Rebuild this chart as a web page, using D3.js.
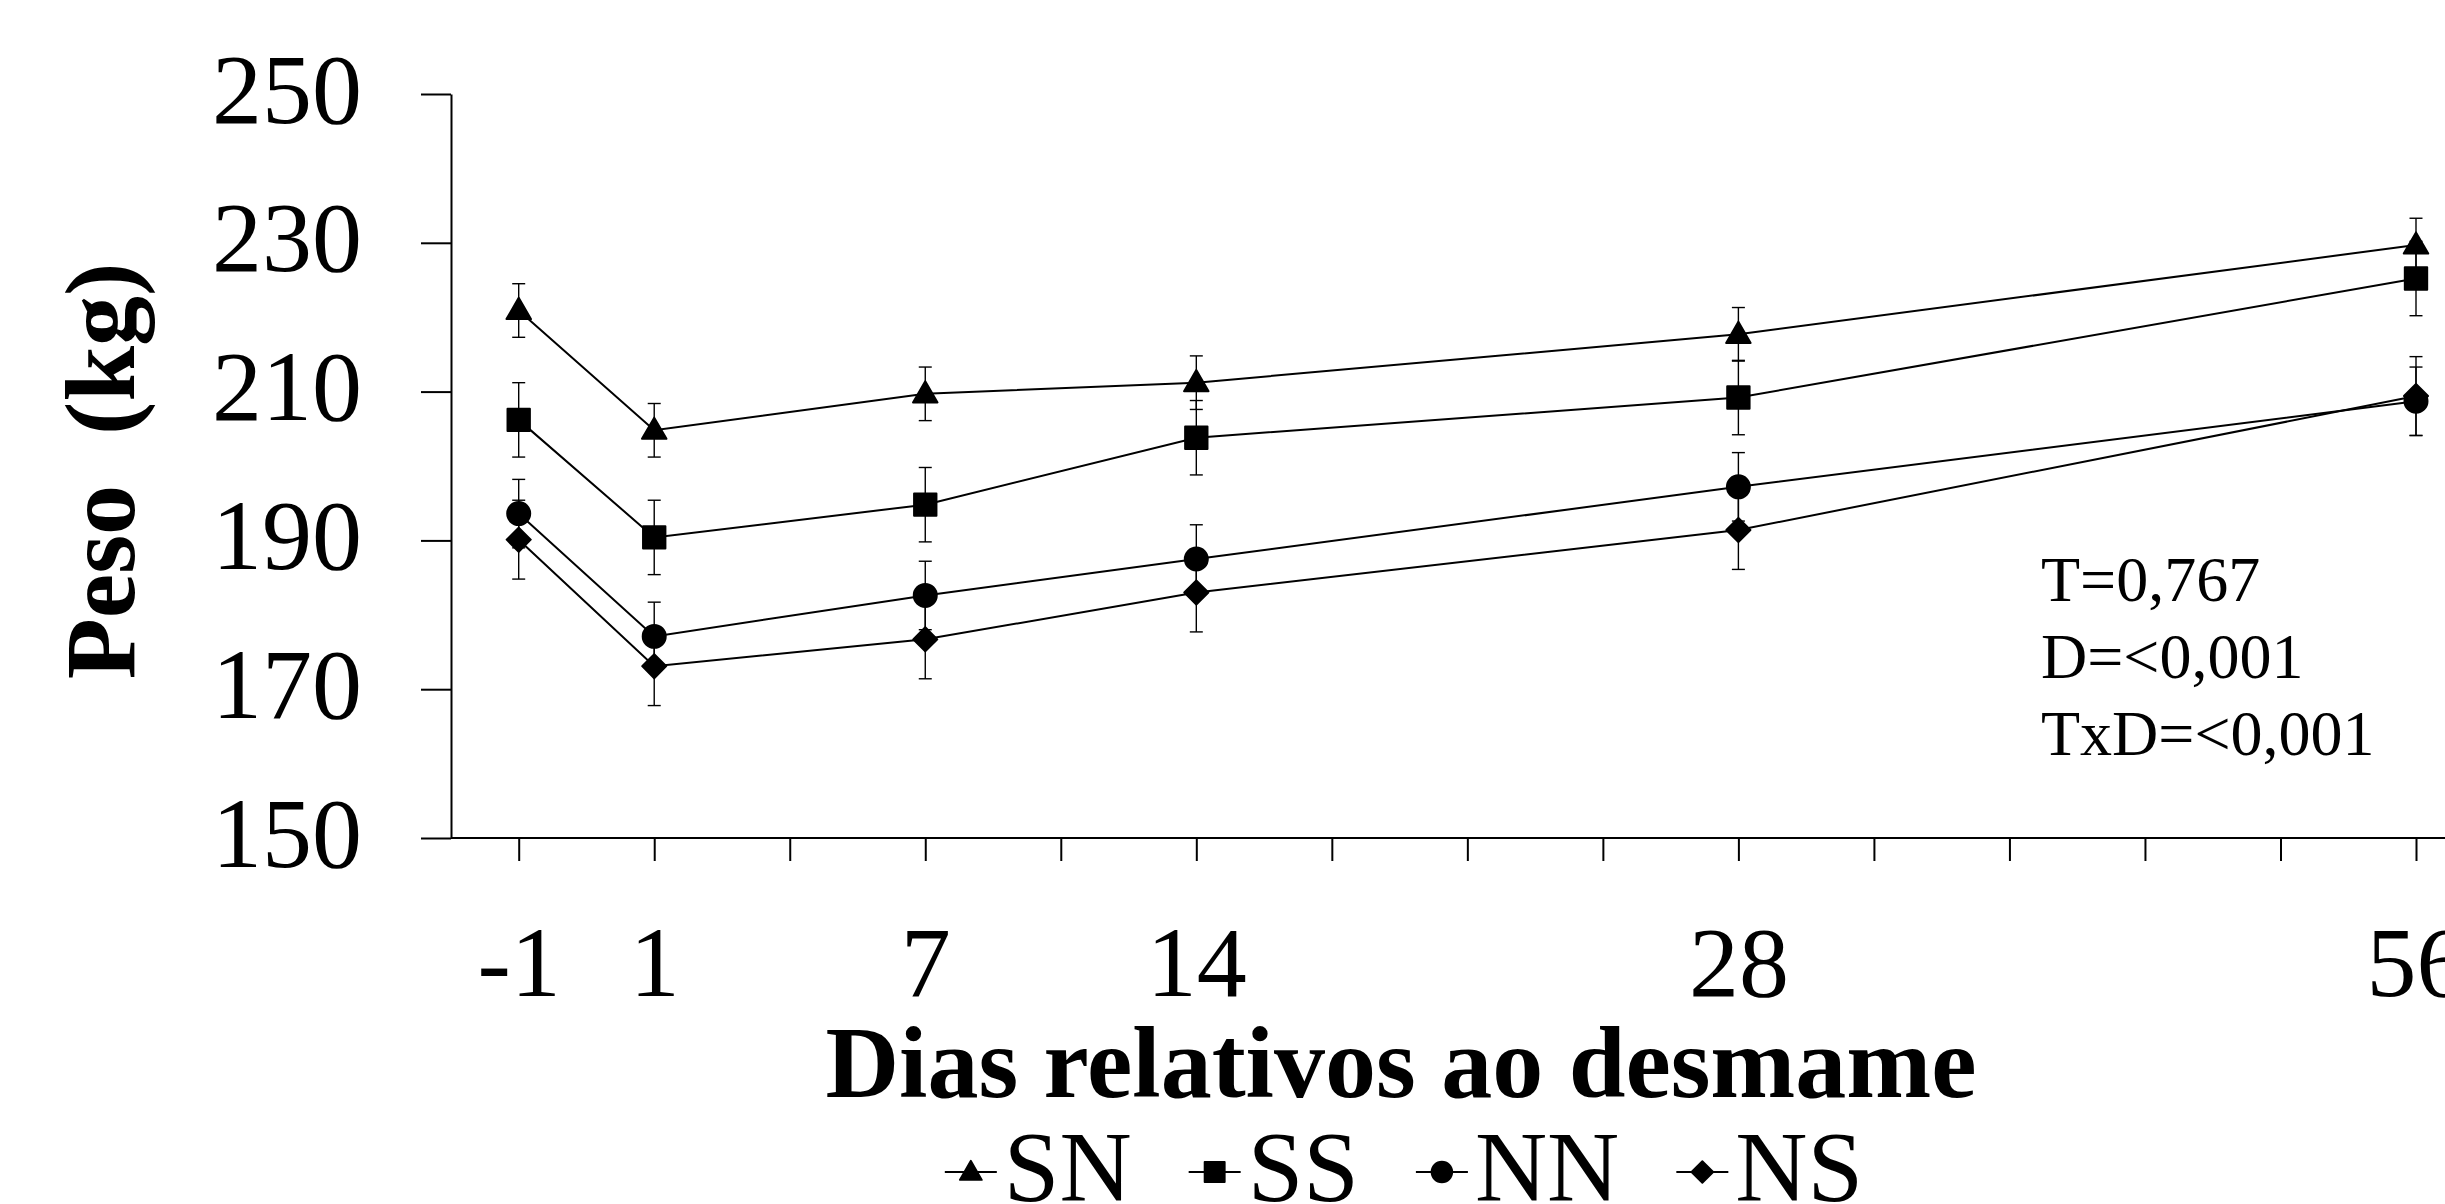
<!DOCTYPE html>
<html>
<head>
<meta charset="utf-8">
<script src="https://cdn.jsdelivr.net/npm/d3@7"></script>
<style>
  html, body { margin: 0; padding: 0; background: #fff; }
  svg { display: block; }
  text { font-family: "Liberation Serif", "Times New Roman", serif; fill: #000; }
</style>
</head>
<body>
<div id="chart"></div>
<script>
// categorias do eixo x (posicoes vazias = marcas sem rotulo)
const categories = ["-1", "1", "", "7", "", "14", "", "", "", "28", "", "", "", "", "56"];
const days = ["-1", "1", "7", "14", "28", "56"];
const seriesNames = ["SN", "SS", "NN", "NS"];

// peso medio (kg)
const snValues = [220.9, 204.8, 209.7, 211.2, 217.7, 229.7];
const ssValues = [206.2, 190.4, 194.8, 203.8, 209.2, 225.2];
const nnValues = [193.6, 177.1, 182.6, 187.5, 197.2, 208.7];
const nsValues = [190.1, 173.1, 176.7, 183.0, 191.4, 209.4];

// erro padrao
const snErr = [3.6, 3.6, 3.6, 3.6, 3.6, 3.6];
const ssErr = [5.0, 5.0, 5.0, 5.0, 5.0, 5.0];
const nnErr = [4.6, 4.6, 4.6, 4.6, 4.6, 4.6];
const nsErr = [5.3, 5.3, 5.3, 5.3, 5.3, 5.3];

const yTicks = [150, 170, 190, 210, 230, 250];
const statsLines = ["T=0,767", "D=<0,001", "TxD=<0,001"];

const W = 2445, H = 1204;

const svg = d3.select("#chart").append("svg")
  .attr("width", W)
  .attr("height", H);

const x = d3.scalePoint()
  .domain(d3.range(categories.length))
  .range([518.7, 2416])
  .padding(0);

const y = d3.scaleLinear()
  .domain([150, 250])
  .range([838, 94]);

const axisX = x(0) - 67.7; // posicao do eixo y

// simbolos
const triPath = d3.symbol().type(d3.symbolTriangle).size(260)();
const sqPath = d3.symbol().type(d3.symbolSquare).size(500)();
const circPath = d3.symbol().type(d3.symbolCircle).size(415)();
const diaPath = d3.symbol().type(d3.symbolSquare).size(290)();
const shapes = {
  SN: { d: triPath, rot: 0, dy: 1.5 },
  SS: { d: sqPath, rot: 0, dy: 0 },
  NN: { d: circPath, rot: 0, dy: 0 },
  NS: { d: diaPath, rot: 45, dy: 0 }
};

const seriesVals = { SN: snValues, SS: ssValues, NN: nnValues, NS: nsValues };
const seriesErr = { SN: snErr, SS: ssErr, NN: nnErr, NS: nsErr };

const series = seriesNames.map(name => ({
  name: name,
  points: days.map((d, i) => ({
    idx: categories.indexOf(d),
    v: seriesVals[name][i],
    e: seriesErr[name][i]
  }))
}));

// eixo y
const yAxis = svg.append("g")
  .attr("transform", "translate(" + axisX + ",0)")
  .call(d3.axisLeft(y).tickValues(yTicks).tickSize(30).tickSizeOuter(0).tickPadding(59));
yAxis.select(".domain").attr("stroke", "#000").attr("stroke-width", 2);
yAxis.selectAll(".tick line").attr("stroke", "#000").attr("stroke-width", 2);
yAxis.selectAll(".tick text")
  .attr("font-family", "Liberation Serif")
  .attr("font-size", 100)
  .attr("dy", "0.28em");

// eixo x
const xAxis = svg.append("g")
  .attr("transform", "translate(0," + y(150) + ")")
  .call(d3.axisBottom(x).tickSize(23).tickSizeOuter(0).tickPadding(64)
    .tickFormat(i => categories[i]));
xAxis.select(".domain").remove();
xAxis.append("line")
  .attr("x1", axisX).attr("x2", W)
  .attr("y1", 0).attr("y2", 0)
  .attr("stroke", "#000").attr("stroke-width", 2);
xAxis.selectAll(".tick line").attr("stroke", "#000").attr("stroke-width", 2);
xAxis.selectAll(".tick text")
  .attr("font-family", "Liberation Serif")
  .attr("font-size", 100)
  .attr("dy", "0.71em");

// linhas
const line = d3.line()
  .x(p => x(p.idx))
  .y(p => y(p.v));

const plot = svg.append("g");

plot.selectAll(".serie")
  .data(series)
  .enter()
  .append("path")
    .attr("class", "serie")
    .attr("d", s => line(s.points))
    .attr("fill", "none")
    .attr("stroke", "#000")
    .attr("stroke-width", 2);

// barras de erro
const allPts = series.flatMap(s => s.points.map(p => Object.assign({ name: s.name }, p)));
const eb = plot.selectAll(".err")
  .data(allPts)
  .enter()
  .append("g")
    .attr("class", "err")
    .attr("stroke", "#000")
    .attr("stroke-width", 1.4);
eb.append("line")
  .attr("x1", p => x(p.idx)).attr("x2", p => x(p.idx))
  .attr("y1", p => y(p.v + p.e)).attr("y2", p => y(p.v - p.e));
eb.append("line")
  .attr("x1", p => x(p.idx) - 6.5).attr("x2", p => x(p.idx) + 6.5)
  .attr("y1", p => y(p.v + p.e)).attr("y2", p => y(p.v + p.e));
eb.append("line")
  .attr("x1", p => x(p.idx) - 6.5).attr("x2", p => x(p.idx) + 6.5)
  .attr("y1", p => y(p.v - p.e)).attr("y2", p => y(p.v - p.e));

// marcadores
plot.selectAll(".mk")
  .data(allPts)
  .enter()
  .append("path")
    .attr("class", "mk")
    .attr("d", p => shapes[p.name].d)
    .attr("transform", p => "translate(" + x(p.idx) + "," + (y(p.v) + shapes[p.name].dy) + ") rotate(" + shapes[p.name].rot + ")")
    .attr("fill", "#000")
    .attr("stroke", "#000")
    .attr("stroke-width", 2)
    .attr("stroke-linejoin", "round");

// titulo do eixo y
svg.append("text")
  .attr("transform", "translate(134,471) rotate(-90)")
  .attr("text-anchor", "middle")
  .attr("font-weight", "bold")
  .attr("font-size", 100)
  .style("white-space", "pre")
  .text("Peso  (kg)");

// titulo do eixo x
svg.append("text")
  .attr("x", 1401)
  .attr("y", 1097)
  .attr("text-anchor", "middle")
  .attr("font-weight", "bold")
  .attr("font-size", 102)
  .text("Dias relativos ao desmame");

// estatisticas
svg.append("g")
  .selectAll("text")
  .data(statsLines)
  .enter()
  .append("text")
    .attr("x", 2041)
    .attr("y", (d, i) => 601 + i * 77)
    .attr("font-size", 64)
    .text(d => d);

// legenda
const legend = svg.append("g");
const lineLen = 52, gap = 57;
let cursor = 0;
seriesNames.forEach(name => {
  const item = legend.append("g").attr("transform", "translate(" + cursor + ",0)");
  item.append("line")
    .attr("x1", 0).attr("x2", lineLen)
    .attr("y1", 1172).attr("y2", 1172)
    .attr("stroke", "#000").attr("stroke-width", 2);
  item.append("path")
    .attr("d", shapes[name].d)
    .attr("transform", "translate(" + (lineLen / 2) + "," + (1172 + shapes[name].dy) + ") rotate(" + shapes[name].rot + ") scale(0.9)")
    .attr("fill", "#000")
    .attr("stroke", "#000")
    .attr("stroke-width", 2)
    .attr("stroke-linejoin", "round");
  const t = item.append("text")
    .attr("x", lineLen + 7)
    .attr("y", 1200)
    .attr("font-size", 100)
    .text(name);
  cursor += lineLen + 7 + t.node().getComputedTextLength() + gap;
});
const legW = cursor - gap;
legend.attr("transform", "translate(" + (1404 - legW / 2) + ",0)");
</script>
</body>
</html>
